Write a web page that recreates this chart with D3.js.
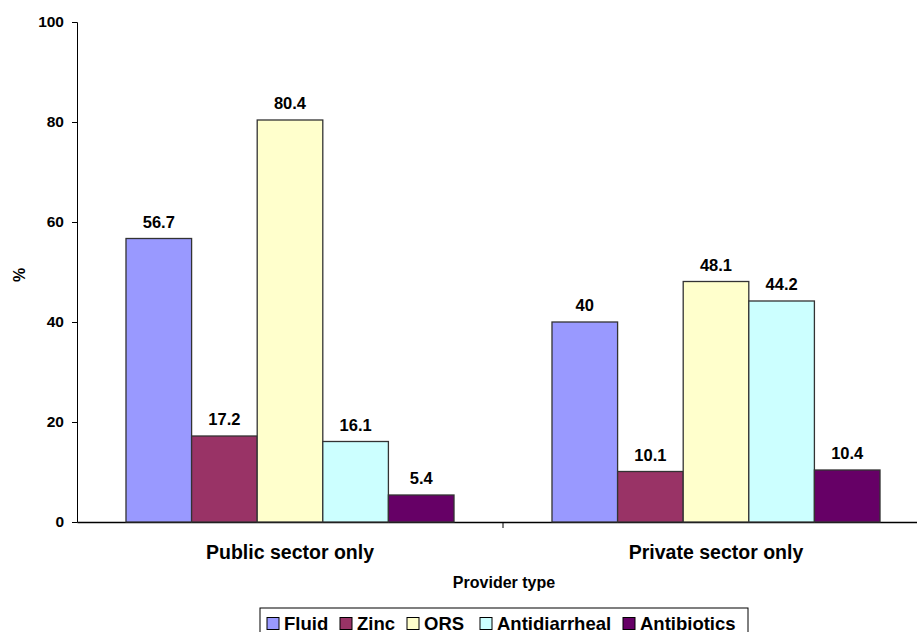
<!DOCTYPE html>
<html>
<head>
<meta charset="utf-8">
<script src="https://cdn.jsdelivr.net/npm/d3@7/dist/d3.min.js"></script>
<style>
  body { margin: 0; background: #fff; }
  text { font-family: "Liberation Sans", Arial, sans-serif; font-weight: bold; fill: #000; }
</style>
</head>
<body>
<div id="chart"></div>
<script>
// Data
const categories = ["Public sector only", "Private sector only"];
const series = ["Fluid", "Zinc", "ORS", "Antidiarrheal", "Antibiotics"];
const colors = ["#9999ff", "#993366", "#ffffcc", "#ccffff", "#660066"];
const values = [
    [56.7, 17.2, 80.4, 16.1, 5.4],
    [40, 10.1, 48.1, 44.2, 10.4]
];
const yTicks = [0, 20, 40, 60, 80, 100];

function drawChart() {
    const W = 917, H = 632;
    const margin = {top: 22, left: 77, bottom: 110, right: -12};
    const width = W - margin.left - margin.right,
        height = H - margin.top - margin.bottom;

    const svg = d3.select("#chart")
        .append("svg")
        .attr("width", W)
        .attr("height", H);

    const g = svg.append("g")
        .attr("transform", `translate(${margin.left},${margin.top})`);

    // Scales
    const x0 = d3.scaleBand()
        .domain(categories)
        .range([0, width])
        .padding(0);

    const gap = x0.bandwidth() * 0.115;
    const x1 = d3.scaleBand()
        .domain(series)
        .range([gap, x0.bandwidth() - gap])
        .padding(0);

    const y = d3.scaleLinear()
        .domain([0, 100])
        .range([height, 0]);

    // Y axis
    const yAxis = g.append("g")
        .call(d3.axisLeft(y).tickValues(yTicks).tickSize(5).tickPadding(8));
    yAxis.select(".domain").attr("stroke", "#000");
    yAxis.selectAll(".tick line").attr("stroke", "#000");
    yAxis.selectAll("text").style("font-size", "15.5px");

    // X axis
    const xAxis = g.append("g")
        .attr("transform", `translate(0,${height})`)
        .call(d3.axisBottom(x0).tickSize(0).tickPadding(0).tickFormat(""));
    xAxis.select(".domain").attr("stroke", "#000").attr("stroke-width", 1.5);
    // separator tick between categories
    xAxis.append("line")
        .attr("x1", x0(categories[1]))
        .attr("x2", x0(categories[1]))
        .attr("y1", 0)
        .attr("y2", 6)
        .attr("stroke", "#000");

    // Category labels
    g.selectAll(".cat-label")
        .data(categories)
        .enter()
        .append("text")
        .attr("class", "cat-label")
        .attr("x", d => x0(d) + x0.bandwidth() / 2)
        .attr("y", height + 37)
        .attr("text-anchor", "middle")
        .style("font-size", "19.5px")
        .text(d => d);

    // Bars
    const groups = g.selectAll(".group")
        .data(categories)
        .enter()
        .append("g")
        .attr("transform", d => `translate(${x0(d)},0)`);

    groups.selectAll("rect")
        .data((d, i) => values[i].map((v, j) => ({s: series[j], v, c: colors[j]})))
        .enter()
        .append("rect")
        .attr("x", d => x1(d.s))
        .attr("y", d => y(d.v))
        .attr("width", x1.bandwidth())
        .attr("height", d => height - y(d.v))
        .attr("fill", d => d.c)
        .attr("stroke", "#333")
        .attr("stroke-width", 1.3);

    groups.selectAll(".val")
        .data((d, i) => values[i].map((v, j) => ({s: series[j], v})))
        .enter()
        .append("text")
        .attr("class", "val")
        .attr("x", d => x1(d.s) + x1.bandwidth() / 2)
        .attr("y", d => y(d.v) - 11)
        .attr("text-anchor", "middle")
        .style("font-size", "16.5px")
        .text(d => d.v);

    // Axis titles
    svg.append("text")
        .attr("transform", "translate(25,275) rotate(-90)")
        .attr("text-anchor", "middle")
        .style("font-size", "16px")
        .text("%");

    svg.append("text")
        .attr("x", 504)
        .attr("y", 588)
        .attr("text-anchor", "middle")
        .style("font-size", "16px")
        .text("Provider type");

    // Legend
    const legend = svg.append("g").attr("transform", "translate(260,608)");
    legend.append("rect")
        .attr("x", 0).attr("y", 0)
        .attr("width", 488).attr("height", 34)
        .attr("fill", "#fff")
        .attr("stroke", "#000")
        .attr("stroke-width", 1);

    const itemX = [7, 80, 147, 220, 363];
    const items = legend.selectAll(".item")
        .data(series)
        .enter()
        .append("g")
        .attr("transform", (d, i) => `translate(${itemX[i]},9)`);
    items.append("rect")
        .attr("width", 12).attr("height", 12)
        .attr("y", 0.5)
        .attr("fill", (d, i) => colors[i])
        .attr("stroke", "#000");
    items.append("text")
        .attr("x", 17)
        .attr("y", 12.5)
        .style("font-size", "18.5px")
        .text(d => d);
}

drawChart();
</script>
</body>
</html>
